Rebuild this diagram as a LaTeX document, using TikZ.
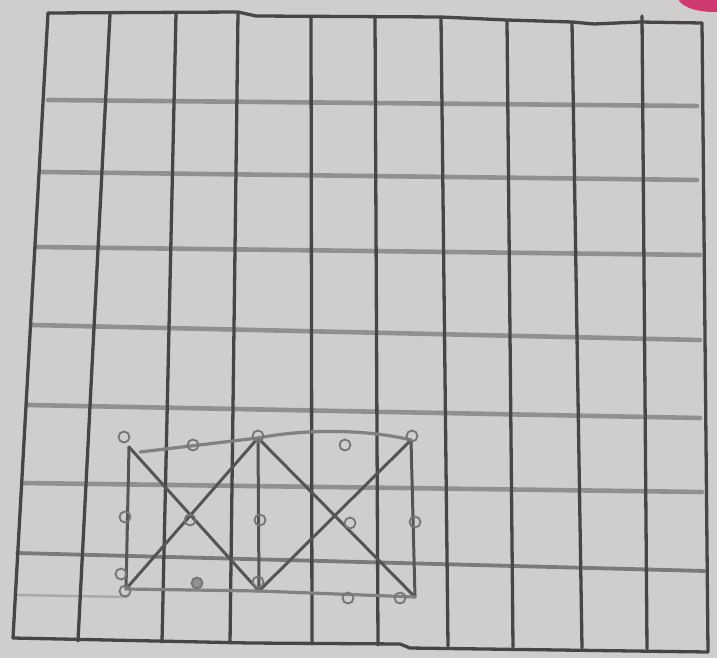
\documentclass[tikz,border=0pt]{standalone}
\usepackage{xcolor}
\usepackage{tikz}
\usetikzlibrary{positioning}
\definecolor{paper}{RGB}{208,206,204}
\definecolor{pencil}{RGB}{72,70,69}
\definecolor{softline}{RGB}{146,144,143}
\definecolor{markpink}{RGB}{206,58,112}

\begin{document}
\begin{tikzpicture}[x=1pt, y=-1pt,
  frameline/.style={draw=pencil, line width=3.3pt, line cap=round, line join=round},
  rowline/.style={draw=softline, line width=4.6pt, line cap=round},
  edge/.style={draw=pencil!92, line width=3pt, line cap=round},
  faintedge/.style={draw=softline!80!pencil, line width=3.2pt, line cap=round},
  hook/.style={circle, draw=pencil!75, line width=1.8pt, inner sep=0pt, minimum size=11pt},
]
  \useasboundingbox (0,0) rectangle (717,658);
  \fill[paper] (0,0) rectangle (717,658);
  \fill[markpink] (714,-3) ellipse [x radius=36pt, y radius=15pt];

  % rows (light pencil)
  \draw[rowline] (48,100) -- (697,106);
  \draw[rowline] (42,172) -- (697,180);
  \draw[rowline] (36,247) -- (700,255);
  \draw[rowline] (32,325) -- (700,340);
  \draw[rowline] (28,405) -- (700,418);
  \draw[rowline] (22,483) -- (702,492);
  \draw[rowline, draw=softline!70!pencil, line width=3.8pt] (17,553) -- (705,571);
  \draw[rowline, draw=softline!60!paper, line width=2.4pt] (17,595) -- (128,597);

  % frame and columns
  \draw[frameline] (48,13) -- (238,12) -- (256,16) -- (441,17) -- (507,20)
                   -- (572,22) -- (594,24) -- (640,22) -- (702,23);
  \draw[frameline] (13,638) -- (250,643) -- (400,644) -- (410,648) -- (708,652);
  \draw[frameline] (48,13) -- (13,638);
  \draw[frameline] (110,14) -- (78,641);
  \draw[frameline] (176,14) -- (162,642);
  \draw[frameline] (238,13) -- (230,643);
  \draw[frameline] (311,17) -- (312,644);
  \draw[frameline] (375,18) -- (378,645);
  \draw[frameline] (441,18) -- (448,646);
  \draw[frameline] (507,21) -- (513,647);
  \draw[frameline] (572,23) -- (582,648);
  \draw[frameline] (642,16) -- (647,649);
  \draw[frameline] (702,23) -- (708,652);

  % corner points of the figure
  \coordinate (tl) at (129,447);
  \coordinate (tmid) at (258,438);
  \coordinate (tr) at (411,440);
  \coordinate (bl) at (126,589);
  \coordinate (bmid) at (259,591);
  \coordinate (br) at (415,597);
  \coordinate (tstart) at (140,452);

  \draw[edge] (tl) -- (bl);
  \draw[edge] (tmid) -- (bmid);
  \draw[edge] (tr) -- (br);
  \draw[edge] (tl) -- (bmid);
  \draw[edge] (bl) -- (tmid);
  \draw[edge] (tmid) -- (br);
  \draw[edge] (bmid) -- (tr);
  \draw[faintedge] (tstart) -- (tmid);
  \draw[faintedge] (tmid) .. controls (310,428) and (370,430) .. (tr);
  \draw[faintedge] (bl) -- (bmid);
  \draw[faintedge] (bmid) -- (br);

  % small marks
  \node[hook] (mtl) at (124,437) {};
  \node[hook] (mt1) at (193,445) {};
  \node[hook] (mtm) at (258,436) {};
  \node[hook] (mt2) at (345,445) {};
  \node[hook] (mtr) at (412,436) {};
  \node[hook] (ml) at (125,517) {};
  \node[hook] (mc1) at (190,520) {};
  \node[hook] (mm) at (260,520) {};
  \node[hook] (mc2) at (350,523) {};
  \node[hook] (mr) at (415,522) {};
  \node[hook] (mbl1) at (121,574) {};
  \node[hook] (mbl2) at (125,591) {};
  \node[hook, fill=softline] (mb1) at (197,583) {};
  \node[hook] (mbm) at (258,582) {};
  \node[hook] (mb2) at (348,598) {};
  \node[hook] (mbr) at (400,598) {};
\end{tikzpicture}
\end{document}
